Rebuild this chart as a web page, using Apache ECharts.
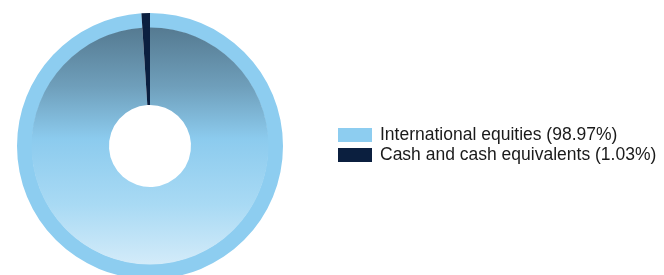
<!DOCTYPE html>
<html>
<head>
<meta charset="utf-8">
<script src="https://cdn.jsdelivr.net/npm/echarts@6/dist/echarts.min.js"></script>
<style>
html,body{margin:0;padding:0;background:#fff;}
#chart{width:664px;height:275px;}
</style>
</head>
<body>
<div id="chart"></div>
<script>
const categories = ['International equities', 'Cash and cash equivalents'];
const values = [98.97, 1.03];
const legendLabels = ['International equities (98.97%)', 'Cash and cash equivalents (1.03%)'];

const ringColors = ['#8dcdf0', '#0b1f3f'];
const chart = echarts.init(document.getElementById('chart'), null, {renderer: 'canvas'});

const gradient = new echarts.graphic.LinearGradient(0, 0, 0, 1, [
  {offset: 0, color: '#557a91'},
  {offset: 0.25, color: '#6f9fbb'},
  {offset: 0.47, color: '#8ccbee'},
  {offset: 0.75, color: '#a9daf4'},
  {offset: 1, color: '#d3ebf9'}
]);

const outerData = categories.map((c, i) => ({
  name: legendLabels[i], value: values[i],
  itemStyle: {color: ringColors[i]}
}));
const innerData = categories.map((c, i) => ({
  name: legendLabels[i], value: values[i],
  itemStyle: {color: i === 0 ? gradient : ringColors[i]}
}));

chart.setOption({
  animation: false,
  legend: {
    orient: 'vertical',
    left: 338,
    top: 126,
    padding: 0,
    itemWidth: 34,
    itemHeight: 14,
    itemGap: 2,
    icon: 'rect',
    selectedMode: false,
    textStyle: {fontFamily: 'Liberation Sans, Arial, sans-serif', fontSize: 17.5, color: '#1a1a1a', padding: [0,0,0,3]},
    data: legendLabels
  },
  series: [
    {
      type: 'pie', silent: true, center: [150, 146], radius: [118, 133],
      startAngle: 90, clockwise: true,
      label: {show: false}, labelLine: {show: false},
      itemStyle: {borderWidth: 0},
      data: outerData
    },
    {
      type: 'pie', silent: true, center: [150, 146], radius: [41, 118.5],
      startAngle: 90, clockwise: true,
      label: {show: false}, labelLine: {show: false},
      itemStyle: {borderWidth: 0},
      data: innerData
    }
  ]
});
</script>
</body>
</html>
